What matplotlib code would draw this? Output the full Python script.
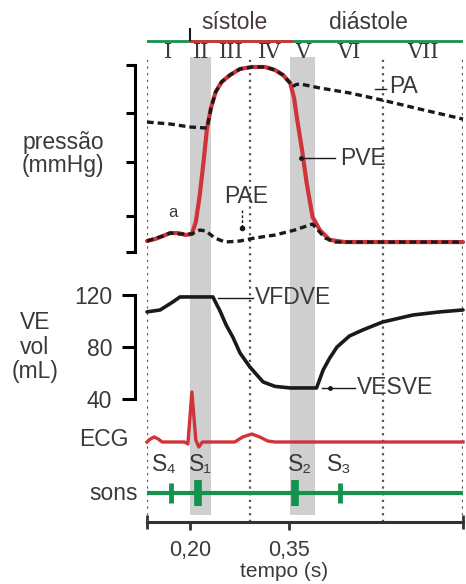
import numpy as np
import matplotlib.pyplot as plt

plt.rcParams['font.family'] = ['Liberation Sans', 'DejaVu Sans']
plt.rcParams['font.size'] = 16.5

# dados (tempo em s)
t_pve = [0.135, 0.147, 0.159, 0.170, 0.182, 0.194, 0.203, 0.209, 0.215, 0.221,
         0.226, 0.232, 0.239, 0.248, 0.261, 0.276, 0.294, 0.314, 0.329, 0.341,
         0.352, 0.358, 0.362, 0.370, 0.377, 0.386, 0.397, 0.412, 0.435, 0.614]
pve = [4.0, 5.3, 7.3, 9.3, 9.3, 8.0, 8.7, 16.7, 34.7, 58.0,
       79.3, 92.7, 103.3, 110.0, 114.7, 118.7, 120.0, 120.0, 118.0, 114.7,
       109.3, 99.3, 86.7, 64.7, 42.7, 20.0, 11.3, 4.7, 3.3, 3.3]

t_pa = [0.135, 0.170, 0.200, 0.226, 0.232, 0.239, 0.248, 0.261, 0.276, 0.294,
        0.314, 0.329, 0.341, 0.352, 0.356, 0.361, 0.367, 0.397, 0.442, 0.491,
        0.548, 0.614]
pa = [83.3, 82.0, 80.0, 79.3, 92.7, 103.3, 110.0, 114.7, 118.7, 120.0,
      120.0, 118.0, 114.7, 109.3, 107.0, 108.3, 108.7, 106.0, 102.7, 98.0,
      92.0, 85.3]

t_pae = [0.135, 0.159, 0.170, 0.185, 0.203, 0.215, 0.224, 0.238, 0.253, 0.276,
         0.298, 0.329, 0.359, 0.377, 0.386, 0.394, 0.405, 0.420, 0.442, 0.614]
pae = [4.0, 7.3, 9.3, 8.7, 8.7, 11.3, 10.7, 6.0, 3.3, 4.0,
       6.0, 8.0, 11.3, 14.0, 15.3, 11.3, 6.0, 3.3, 3.3, 3.3]

t_vol = [0.135, 0.155, 0.174, 0.185, 0.235, 0.241, 0.245, 0.255, 0.265, 0.276,
         0.291, 0.311, 0.329, 0.352, 0.392, 0.397, 0.402, 0.412, 0.423, 0.442,
         0.462, 0.492, 0.538, 0.579, 0.614]
vol = [107.0, 108.5, 114.6, 118.5, 118.5, 112.3, 108.5, 96.9, 87.7, 75.4,
       64.6, 53.1, 49.7, 48.5, 48.5, 55.4, 62.3, 71.5, 80.0, 88.5,
       93.1, 99.2, 104.6, 107.0, 108.5]

t_ecg = [0.135, 0.140, 0.146, 0.152, 0.158, 0.192, 0.197, 0.203, 0.209, 0.2135,
         0.219, 0.268, 0.280, 0.294, 0.306, 0.318, 0.329, 0.614]
ecg = [0, 0.06, 0.10, 0.06, 0, 0, -0.04, 1.0, 0.04, -0.10,
       0, 0, 0.10, 0.16, 0.10, 0.02, 0, 0]

t_sons = [0.172, 0.2126, 0.359, 0.427]
amp_sons = [0.8, 1.0, 1.0, 0.8]
larg_sons = [3.5, 5.5, 5.5, 3.5]
nomes_sons = ['S₄', 'S₁', 'S₂', 'S₃']
x_nomes_sons = [0.1615, 0.2162, 0.3667, 0.4258]

fases = ['I', 'II', 'III', 'IV', 'V', 'VI', 'VII']
lim_fases = [0.135, 0.200, 0.233, 0.291, 0.352, 0.389, 0.492, 0.614]
linhas_t = [0.135, 0.291, 0.492, 0.614]
faixas = [(0.200, 0.232), (0.352, 0.390)]
sistole = (0.200, 0.353)
ticks_t = [0.20, 0.35]
ticks_p = [-3.33, 21, 57, 89, 121.33]
ticks_vol = [40, 80, 120]

T0, T1 = 0.135, 0.614
W, H = 466, 584
X0, X1 = 147, 463
VERM = '#d0333a'
VERDE = '#15924e'
TXT = '#3a3a3a'
PRETO = '#1a1a1a'


def caixa(topo, base):
    return [X0 / W, 1 - base / H, (X1 - X0) / W, (base - topo) / H]


def esconder(ax, manter=()):
    for k, s in ax.spines.items():
        s.set_visible(k in manter)


fig = plt.figure(figsize=(W / 100, H / 100), dpi=100)

# fundo: linhas pontilhadas, faixas cinza, eixo do tempo
bg = fig.add_axes(caixa(57, 522))
bg.set_xlim(T0, T1)
bg.set_ylim(0, 1)
bg.patch.set_visible(False)
for a, b in faixas:
    bg.axvspan(a, b, ymin=0.015, ymax=1, color='#cfcfcf', lw=0)
for t in linhas_t:
    bg.axvline(t, color='#555555', lw=1.6, ls=(0, (1, 2)))
esconder(bg, ['bottom'])
bg.spines['bottom'].set_linewidth(2.2)
bg.spines['bottom'].set_color('#333333')
bg.set_yticks([])
bg.set_xticks(ticks_t)
bg.set_xticklabels([('%.2f' % t).replace('.', ',') for t in ticks_t])
bg.set_xticks([T0, T1], minor=True)
bg.tick_params(axis='x', which='major', direction='out', length=6, width=2,
               color='#333333', labelsize=15.5, labelcolor=TXT, pad=7)
bg.tick_params(axis='x', which='minor', direction='inout', length=10, width=2,
               color='#333333')
bg.set_xlabel('tempo (s)', fontsize=15, color=TXT)
bg.xaxis.set_label_coords((284 - X0) / (X1 - X0), -0.087)

# fases do ciclo
topo = fig.add_axes(caixa(10, 62))
topo.set_xlim(T0, T1)
topo.set_ylim(0, 1)
topo.axis('off')
topo.axhline(0.4, color=VERDE, lw=2)
topo.plot(sistole, [0.4, 0.4], color=VERM, lw=2)
topo.vlines([sistole[0]], 0.4, 0.65, color=PRETO, lw=1.5)
for i, f in enumerate(fases):
    xm = (lim_fases[i] + lim_fases[i + 1]) / 2
    topo.text(xm, 0.18, f, ha='center', va='center', fontsize=15,
              color=TXT, family='DejaVu Serif')
topo.text(0.2682, 0.76, 'sístole', ha='center', va='center', color='#4a3a3c')
topo.text(0.4700, 0.76, 'diástole', ha='center', va='center', color=TXT)

# pressões
ap = fig.add_axes(caixa(65, 252))
ap.patch.set_visible(False)
ap.set_xlim(T0, T1)
ap.set_ylim(ticks_p[0], ticks_p[-1])
esconder(ap, ['left'])
ap.spines['left'].set_position(('outward', 8.6))
ap.spines['left'].set_linewidth(2.2)
ap.spines['left'].set_bounds(ticks_p[0], ticks_p[-1])
ap.set_xticks([])
ap.set_yticks(ticks_p)
ap.set_yticklabels([])
ap.tick_params(axis='y', direction='out', length=6.5, width=2.2)
ap.plot(t_pve, pve, color=VERM, lw=3, clip_on=False, solid_capstyle='round')
ap.plot(t_pa, pa, color=PRETO, lw=2.4, ls=(0, (2, 1.2)), clip_on=False)
ap.plot(t_pae, pae, color=PRETO, lw=2.4, ls=(0, (2, 1.2)), clip_on=False)
ap.text(0.1742, 22.7, 'a', ha='center', va='center', fontsize=12, color=TXT)
ap.plot([0.3682, 0.4197], [59.3, 59.3], color=PRETO, lw=1)
ap.plot([0.3682], [59.3], 'o', color=PRETO, ms=2.5)
ap.text(0.4273, 59.3, 'PVE', ha='left', va='center', color=TXT)
ap.plot([0.4803, 0.4970], [105.3, 105.3], color=PRETO, lw=1)
ap.text(0.5015, 106.7, 'PA', ha='left', va='center', color=TXT)
ap.plot([0.2788, 0.2788], [24.7, 12.7], color=PRETO, lw=1, ls=(0, (2, 1.5)))
ap.plot([0.2788], [12.7], 'o', color=PRETO, ms=3)
ap.text(0.2848, 34, 'PAE', ha='center', va='center', color=TXT)

# volume
av = fig.add_axes(caixa(295, 399))
av.patch.set_visible(False)
av.set_xlim(T0, T1)
av.set_ylim(40, 120)
esconder(av, ['left'])
av.spines['left'].set_position(('outward', 8.6))
av.spines['left'].set_linewidth(2.2)
av.set_xticks([])
av.set_yticks(ticks_vol)
av.tick_params(axis='y', direction='out', length=9.4, width=2.2,
               labelcolor=TXT, pad=7, labelsize=16.5)
av.plot(t_vol, vol, color=PRETO, lw=2.6, clip_on=False, solid_capstyle='round')
av.plot([0.2424, 0.2955], [117.7, 117.7], color=PRETO, lw=1)
av.text(0.2985, 117.7, 'VFDVE', ha='left', va='center', color=TXT)
av.plot([0.4000, 0.4500], [48.5, 48.5], color=PRETO, lw=1)
av.plot([0.412], [48.5], 'o', color=PRETO, ms=2.5)
av.text(0.4530, 48.5, 'VESVE', ha='left', va='center', color=TXT)

# ECG
ae = fig.add_axes(caixa(380, 460))
ae.patch.set_visible(False)
ae.set_xlim(T0, T1)
ae.set_ylim(-0.36, 1.24)
ae.axis('off')
ae.plot(t_ecg, ecg, color=VERM, lw=2.4, clip_on=False)

# sons
asn = fig.add_axes(caixa(478, 508))
asn.patch.set_visible(False)
asn.set_xlim(T0, T1)
asn.set_ylim(-1.15, 1.15)
asn.axis('off')
asn.axhline(0, color=VERDE, lw=3)
asn.vlines(t_sons, [-a for a in amp_sons], amp_sons, colors=VERDE, lw=larg_sons)
for xs, nome in zip(x_nomes_sons, nomes_sons):
    asn.text(xs, 2.15, nome, ha='center', va='center', color=TXT, clip_on=False)

# rótulos à esquerda
fig.text(63 / W, 1 - 154 / H, 'pressão\n(mmHg)', ha='center', va='center',
         color=TXT, linespacing=1.0)
fig.text(35 / W, 1 - 347 / H, 'VE\nvol\n(mL)', ha='center', va='center',
         color=TXT, linespacing=1.1)
fig.text(104 / W, 1 - 440 / H, 'ECG', ha='center', va='center', color=TXT)
fig.text(114 / W, 1 - 494 / H, 'sons', ha='center', va='center', color=TXT)

fig.savefig('out.png', dpi=100)
